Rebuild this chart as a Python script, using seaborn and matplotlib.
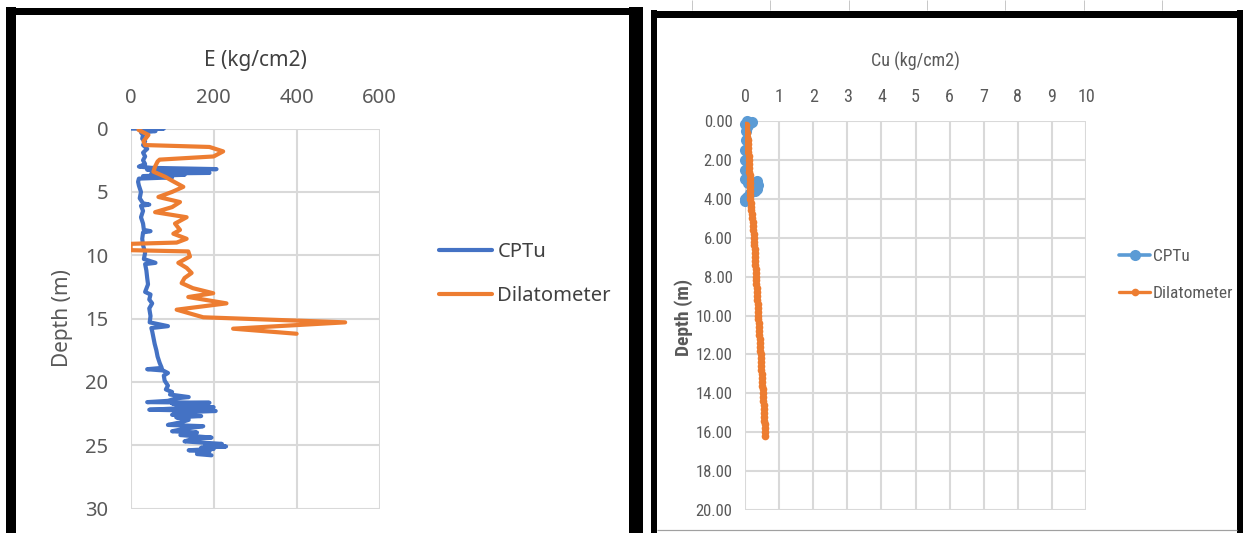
import matplotlib
matplotlib.use("Agg")
import matplotlib.pyplot as plt
import seaborn as sns
import pandas as pd
from matplotlib.lines import Line2D
import logging
logging.getLogger("matplotlib.font_manager").setLevel(logging.ERROR)

sns.set_theme(style="white")
plt.rcParams['font.family'] = ['Noto Sans', 'DejaVu Sans']

# ---------------- data: left chart (E) ----------------
cptu_e_depth = [0.0, 0.0, 0.05, 0.2, 0.3, 0.5, 0.8, 1.0, 1.3, 1.6, 1.9, 2.2, 2.5, 2.8, 3.0, 3.1,
                3.2, 3.25, 3.35, 3.4, 3.5, 3.55, 3.65, 3.75, 3.85, 3.95, 4.2, 4.5, 5.0, 5.5,
                5.9, 6.0, 6.1, 6.5, 7.0, 7.5, 8.0, 8.1, 8.2, 8.7, 9.2, 9.8, 10.3, 10.6, 10.7,
                11.2, 11.8, 12.3, 12.9, 13.1, 13.5, 13.8, 14.2, 14.8, 15.3, 15.6, 15.75, 16.0,
                16.5, 17.0, 17.5, 18.0, 18.5, 18.9, 19.0, 19.1, 19.3, 19.5, 19.9, 20.3, 20.6,
                20.8, 21.0, 21.2, 21.3, 21.5, 21.6, 21.65, 21.7, 21.9, 22.0, 22.1, 22.2, 22.3,
                22.4, 22.6, 22.7, 22.8, 23.0, 23.2, 23.4, 23.5, 23.7, 23.9, 24.0, 24.2, 24.4,
                24.5, 24.7, 24.9, 25.0, 25.1, 25.2, 25.3, 25.4, 25.5, 25.6, 25.7, 25.8]
cptu_e_val = [0, 80, 30, 60, 25, 30, 28, 35, 30, 40, 30, 35, 30, 35, 20, 50,
              207, 40, 180, 60, 190, 50, 130, 30, 100, 20, 18, 20, 25, 22,
              30, 45, 25, 30, 25, 30, 32, 48, 30, 28, 30, 35, 32, 60, 35,
              38, 40, 42, 35, 48, 45, 52, 45, 48, 46, 90, 50, 52,
              55, 58, 62, 65, 70, 75, 40, 78, 90, 80, 82, 90, 85,
              100, 95, 140, 110, 90, 40, 190, 100, 120, 200, 110, 45, 205,
              120, 100, 170, 110, 140, 120, 90, 175, 130, 100, 160, 120, 195,
              150, 130, 220, 180, 230, 170, 200, 140, 190, 170, 160, 195]

dil_e_depth = [0.1, 0.5, 1.0, 1.3, 1.45, 1.8, 2.2, 2.45, 2.6, 3.0, 3.4, 3.8, 4.1, 4.6, 5.0, 5.4,
               5.8, 6.2, 6.6, 7.0, 7.5, 8.0, 8.3, 8.7, 9.0, 9.1, 9.6, 9.7, 10.1, 10.6, 11.0,
               11.4, 11.8, 12.2, 12.6, 13.0, 13.3, 13.8, 14.3, 14.9, 15.3, 15.8, 16.2]
dil_e_val = [19, 43, 31, 35, 190, 223, 200, 70, 65, 59, 55, 83, 99, 127, 100, 67,
             119, 100, 59, 135, 107, 119, 103, 135, 111, 0, 0, 139, 143, 115, 135,
             147, 130, 123, 150, 199, 139, 231, 111, 175, 517, 247, 400]

# ---------------- data: right chart (Cu) ----------------
cptu_cu_depth = [0.0, 0.05, 0.1, 0.15, 0.2, 0.3, 0.5, 1.0, 1.5, 2.0, 2.5, 3.0, 3.1, 3.2,
                 3.3, 3.4, 3.5, 3.6, 3.7, 3.9, 4.0, 4.1]
cptu_cu_val = [0.05, 0.2, 0.15, 0.0, 0.1, 0.05, 0.03, 0.02, 0.0, 0.0, 0.0, 0.0, 0.35, 0.1,
               0.38, 0.2, 0.35, 0.3, 0.15, 0.05, 0.0, 0.0]

dil_cu_depth = [0.2, 0.4, 0.6, 0.8, 1.0, 1.2, 1.4, 1.6, 1.8, 2.0, 2.2, 2.4, 2.6, 2.8, 3.0,
                3.2, 3.4, 3.6, 3.8, 4.0, 4.2, 4.4, 4.6, 4.8, 5.0, 5.2, 5.4, 5.6, 5.8, 6.0,
                6.2, 6.4, 6.6, 6.8, 7.0, 7.2, 7.4, 7.6, 7.8, 8.0, 8.2, 8.4, 8.6, 8.8, 9.0,
                9.2, 9.4, 9.6, 9.8, 10.0, 10.2, 10.4, 10.6, 10.8, 11.0, 11.2, 11.4, 11.6,
                11.8, 12.0, 12.2, 12.4, 12.6, 12.8, 13.0, 13.2, 13.4, 13.6, 13.8, 14.0,
                14.2, 14.4, 14.6, 14.8, 15.0, 15.2, 15.4, 15.6, 15.8, 16.0, 16.2]
dil_cu_val = [0.03, 0.04, 0.05, 0.07, 0.08, 0.08, 0.09, 0.10, 0.11, 0.12, 0.12, 0.13, 0.13,
              0.14, 0.14, 0.15, 0.15, 0.15, 0.16, 0.16, 0.17, 0.18, 0.19, 0.20, 0.21, 0.22,
              0.23, 0.24, 0.25, 0.26, 0.26, 0.27, 0.28, 0.28, 0.29, 0.30, 0.30, 0.31, 0.31,
              0.32, 0.33, 0.33, 0.34, 0.35, 0.35, 0.36, 0.37, 0.37, 0.38, 0.39, 0.39, 0.40,
              0.41, 0.41, 0.42, 0.43, 0.43, 0.44, 0.45, 0.46, 0.46, 0.47, 0.48, 0.48, 0.49,
              0.50, 0.50, 0.51, 0.52, 0.53, 0.53, 0.54, 0.55, 0.55, 0.56, 0.57, 0.57, 0.58,
              0.59, 0.59, 0.60]

series_names = ["CPTu", "Dilatometer"]
left_xticks = [0, 200, 400, 600]
left_yticks = [0, 5, 10, 15, 20, 25, 30]
right_xticks = [0, 1, 2, 3, 4, 5, 6, 7, 8, 9, 10]
right_yticks = [0, 2, 4, 6, 8, 10, 12, 14, 16, 18, 20]

W, H = 1243, 533
fig = plt.figure(figsize=(W / 100, H / 100), dpi=100)
fig.patch.set_facecolor("white")

def frac(x0, y0, x1, y1):
    return [x0 / W, 1 - y1 / H, (x1 - x0) / W, (y1 - y0) / H]

GRID = "#D9D9D9"

# ---------------- left chart ----------------
axL = fig.add_axes(frac(130.6, 128.6, 379.6, 508.5))
sns.lineplot(data=pd.DataFrame({"E": cptu_e_val, "d": cptu_e_depth}), x="E", y="d",
             sort=False, estimator=None, orient="y", color="#4472C4", lw=3.0,
             label=series_names[0], ax=axL)
sns.lineplot(data=pd.DataFrame({"E": dil_e_val, "d": dil_e_depth}), x="E", y="d",
             sort=False, estimator=None, orient="y", color="#ED7D31", lw=3.0,
             label=series_names[1], ax=axL)
axL.set_xlim(0, 600)
axL.set_ylim(30, 0)
axL.set_xticks(left_xticks)
axL.set_yticks(left_yticks)
axL.xaxis.tick_top()
axL.xaxis.set_label_position("top")
axL.grid(True, color=GRID, lw=1.5)
for s in axL.spines.values():
    s.set_visible(False)
axL.tick_params(axis="x", length=0, pad=15, labelsize=14.5, labelcolor="#595959")
axL.tick_params(axis="y", length=0, pad=16, labelsize=14.5, labelcolor="#595959")
axL.set_xlabel("E (kg/cm2)", fontsize=15, color="#404040")
axL.set_ylabel("Depth (m)", fontsize=15, color="#595959")
axL.xaxis.set_label_coords(0.4996, 1.178)
axL.xaxis.label.set_va("center")
axL.yaxis.set_label_coords(-0.2715, 0.5)
axL.yaxis.label.set_va("center")
axL.legend(loc="center left", bbox_to_anchor=(1.2386, 0.617), frameon=False,
           borderpad=0, borderaxespad=0, handlelength=2.65, handletextpad=0.25,
           labelspacing=1.2, fontsize=14.5, labelcolor="#404040")

# ---------------- right chart ----------------
NARROW = ['Liberation Sans Narrow', 'Roboto Condensed', 'Roboto', 'DejaVu Sans']
axR = fig.add_axes(frac(745, 121, 1086, 510))
sns.lineplot(data=pd.DataFrame({"Cu": cptu_cu_val, "d": cptu_cu_depth}), x="Cu", y="d",
             sort=False, estimator=None, orient="y", color="#5B9BD5", lw=2.6,
             marker="o", markersize=8, markeredgewidth=0, label=series_names[0], ax=axR,
             clip_on=False)
sns.lineplot(data=pd.DataFrame({"Cu": dil_cu_val, "d": dil_cu_depth}), x="Cu", y="d",
             sort=False, estimator=None, orient="y", color="#ED7D31", lw=2.4,
             marker="o", markersize=5.5, markeredgewidth=0, label=series_names[1], ax=axR)
axR.set_xlim(0, 10)
axR.set_ylim(20, 0)
axR.set_xticks(right_xticks)
axR.set_yticks(right_yticks)
axR.set_yticklabels([f"{v:.2f}" for v in right_yticks])
axR.xaxis.tick_top()
axR.xaxis.set_label_position("top")
axR.grid(True, color=GRID, lw=1.5)
for s in axR.spines.values():
    s.set_visible(False)
axR.tick_params(axis="x", length=0, pad=11, labelsize=13, labelcolor="#595959")
axR.tick_params(axis="y", length=0, pad=9, labelsize=12, labelcolor="#595959")
for lab in axR.get_xticklabels() + axR.get_yticklabels():
    lab.set_family(NARROW)
axR.set_xlabel("Cu (kg/cm2)", fontsize=13, color="#595959", family=NARROW)
axR.set_ylabel("Depth (m)", fontsize=14, color="#595959", fontweight="bold", family=NARROW)
axR.xaxis.set_label_coords(0.4985, 1.154)
axR.xaxis.label.set_va("center")
axR.yaxis.set_label_coords(-0.180, 0.495)
axR.yaxis.label.set_va("center")
legR = axR.legend(loc="center left", bbox_to_anchor=(1.0968, 0.604), frameon=False,
                  borderpad=0, borderaxespad=0, handlelength=1.8, handletextpad=0.15,
                  labelspacing=1.3, fontsize=12.5, labelcolor="#595959")
for t in legR.get_texts():
    t.set_family(NARROW)

# ---------------- screenshot frames (decoration) ----------------
ov = fig.add_axes([0, 0, 1, 1], zorder=-5)
ov.set_xlim(0, W)
ov.set_ylim(H, 0)
ov.axis("off")
ov.patch.set_alpha(0)

def seg(x0, y0, x1, y1, lw_px, color="black"):
    ov.add_line(Line2D([x0, x1], [y0, y1], lw=lw_px * 0.72, color=color,
                       solid_capstyle="butt"))

# Excel column separators at top of right screenshot
for gx in [692, 770, 849, 927, 1005, 1084, 1162]:
    seg(gx, 0, gx, 10, 1, "#C8C8C8")
# left screenshot frame
seg(6, 10.5, 640, 10.5, 7)
seg(11, 7, 11, 533, 10)
seg(636, 7, 636, 533, 14)
# right screenshot frame
seg(651, 13.5, 1243, 13.5, 7)
seg(654, 10, 654, 533, 6)
seg(1240, 10, 1240, 533, 6)
seg(657, 530, 1237, 530, 1.2, "#A0A0A0")

fig.savefig("out.png", dpi=100)
